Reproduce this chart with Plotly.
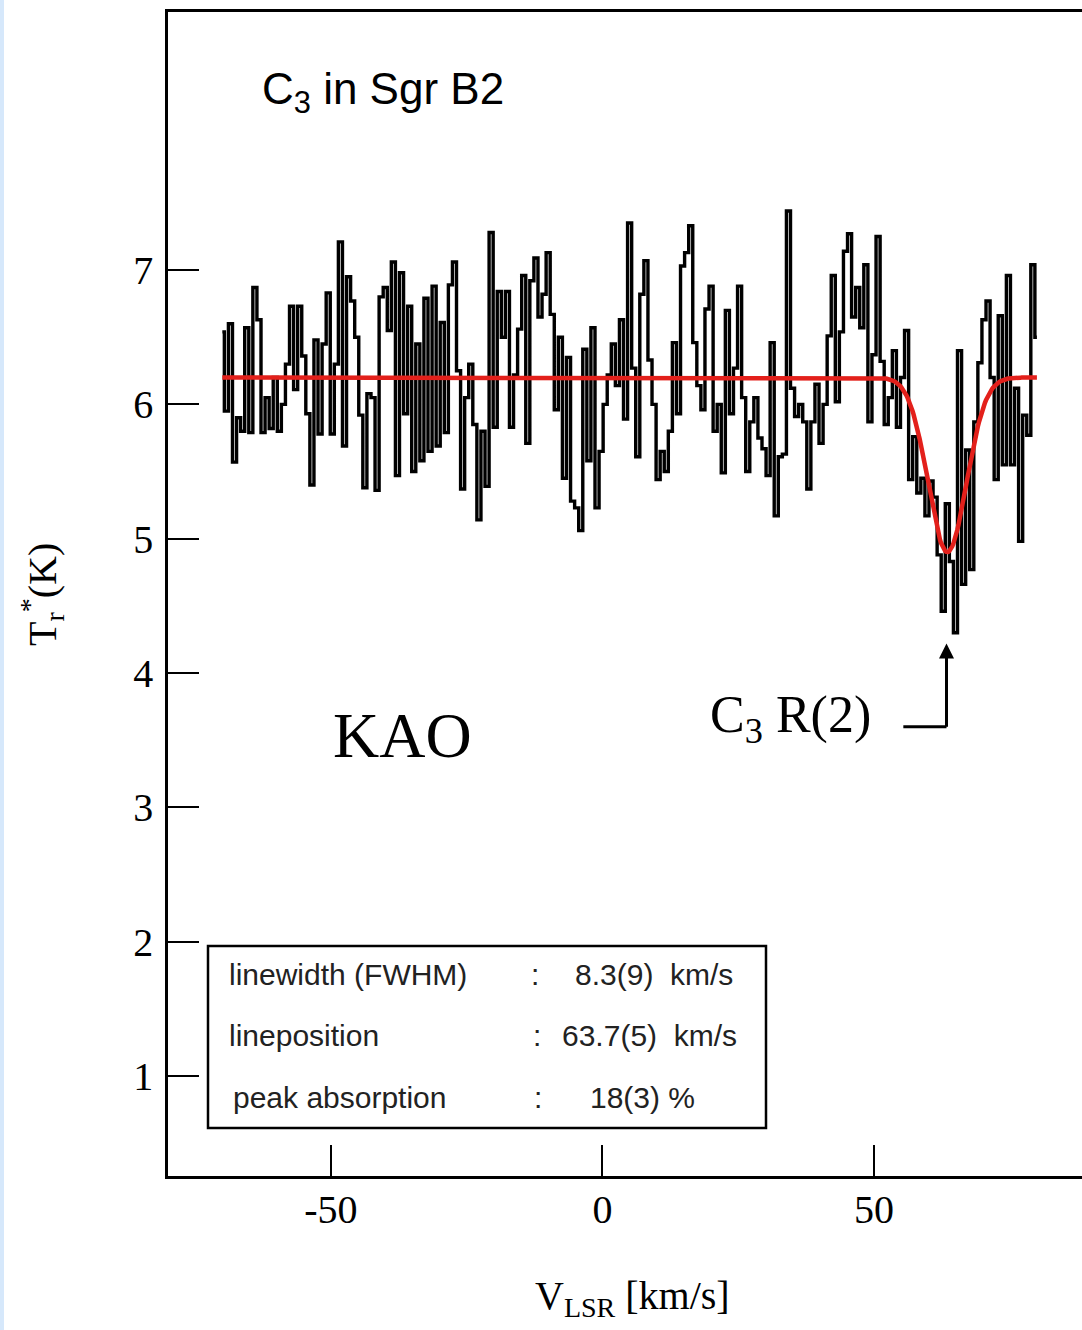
import numpy as np
import plotly.graph_objects as go

# ---------------- data ----------------
# spectrum channels: regular velocity grid (km/s)
v_start = -70.0
v_step = 0.75

# antenna temperature per channel (K)
t_seg1 = [6.54, 5.95, 6.60, 5.57, 5.90, 5.80, 6.57, 5.79, 6.87, 6.63,
          5.79, 6.05, 5.82, 6.20, 5.80, 6.00, 6.30, 6.73, 6.11, 6.73,
          6.36, 5.93, 5.40, 6.48, 5.78, 6.45, 6.83, 5.78, 6.30, 7.21,
          5.69, 6.95, 6.77, 6.50, 5.92, 5.38, 6.08, 6.05, 5.36, 6.80]
t_seg2 = [6.87, 6.55, 7.06, 5.47, 6.98, 5.93, 6.73, 5.50, 6.45, 5.58,
          6.79, 5.65, 6.88, 5.69, 6.61, 5.79, 6.89, 7.06, 6.25, 5.37,
          6.05, 6.30, 5.85, 5.14, 5.80, 5.39, 7.28, 5.83, 6.84, 6.50,
          6.84, 5.83, 6.22, 6.56, 6.96, 5.71, 6.92, 7.09, 6.65]
t_seg3 = [6.82, 7.13, 6.67, 5.96, 6.50, 5.45, 6.35, 5.28, 5.23, 5.06,
          6.41, 5.58, 6.57, 5.23, 5.65, 6.00, 6.22, 6.45, 6.14, 6.63,
          5.89, 7.35, 6.27, 5.61, 6.82, 7.07, 6.33, 6.00, 5.44, 5.65,
          5.50, 5.80, 6.46, 5.93, 7.03, 7.13, 7.33, 6.46, 6.14, 5.96,
          6.71]
t_seg4 = [6.88, 5.80, 6.00, 5.49, 6.70, 5.93, 6.27, 6.88, 6.05, 5.50,
          5.87, 6.05, 5.75, 5.67, 5.47, 6.46, 5.17, 5.61, 5.63, 7.44,
          6.12, 5.91, 6.00, 5.87, 5.37, 5.87, 6.15, 5.71, 6.00, 6.51,
          6.96, 6.02, 6.54, 7.14, 7.27, 6.65, 6.87, 6.57, 7.04]
t_seg5 = [5.87, 6.37, 7.25, 6.32, 5.85, 6.05, 6.40, 5.83, 6.20, 6.55,
          5.44, 5.76, 5.34, 5.45, 5.17, 5.43, 5.31, 4.88, 4.46, 5.26,
          4.83, 4.30, 6.40, 4.66, 5.66, 4.77, 5.87, 6.31, 6.63, 6.77,
          6.20, 5.44, 6.66, 5.55, 6.96, 5.55, 6.12, 4.98, 5.92, 5.77,
          7.04, 6.50]

# Gaussian fit parameters shown on the chart
fit_baseline = 6.2      # K
fit_center = 63.5       # km/s
fit_fwhm = 8.3          # km/s
fit_min = 4.9           # K at line centre

x_ticks = [-50, 0, 50]
y_ticks = [1, 2, 3, 4, 5, 6, 7]

info_labels = ["linewidth (FWHM)", "lineposition", "peak absorption"]
info_values = ["8.3(9)  km/s", "63.7(5)  km/s", "18(3) %"]

# ---------------- build ----------------
temps = np.array(t_seg1 + t_seg2 + t_seg3 + t_seg4 + t_seg5)
vel = v_start + v_step * np.arange(len(temps))

vfit = np.linspace(vel[0], vel[-1], 800)
sig = fit_fwhm / (2 * np.sqrt(2 * np.log(2)))
tfit = fit_baseline - (fit_baseline - fit_min) * np.exp(-0.5 * ((vfit - fit_center) / sig) ** 2)

W, H = 1082, 1330
L, R, T, B = 168, 1082, 12, 1176
XR = [-80.0, 88.3]
YR = [0.256, 8.921]


def px(x):
    return (x - L) / (R - L)


def py(y):
    return (B - y) / (B - T)


fig = go.Figure()
fig.add_trace(go.Scatter(x=vel, y=temps, mode="lines", line=dict(color="black", width=3.4, shape="hvh"),
                         hoverinfo="skip", showlegend=False))
fig.add_trace(go.Scatter(x=vfit, y=tfit, mode="lines", line=dict(color="#e3201b", width=4.5),
                         hoverinfo="skip", showlegend=False))

serif = "Liberation Serif"
sans = "Liberation Sans"

fig.update_layout(
    width=W, height=H,
    margin=dict(l=L, r=W - R, t=T, b=H - B),
    paper_bgcolor="white", plot_bgcolor="white",
    showlegend=False,
    xaxis=dict(range=XR, tickvals=x_ticks, ticktext=[str(t) for t in x_ticks], ticks="inside", ticklen=31,
               tickwidth=2, tickcolor="black", showline=True, linecolor="black", linewidth=2.5, mirror=True,
               showgrid=False, zeroline=False, tickfont=dict(family=serif, size=40, color="black"),
               ticklabelstandoff=-4),
    yaxis=dict(range=YR, tickvals=y_ticks, ticktext=[str(t) for t in y_ticks], ticks="inside", ticklen=31,
               tickwidth=2, tickcolor="black", showline=True, linecolor="black", linewidth=2.5, mirror=False,
               showgrid=False, zeroline=False, tickfont=dict(family=serif, size=40, color="black"),
               ticklabelstandoff=4),
)

anns = []
# axis titles
anns.append(dict(x=px(632), y=py(1298), xref="paper", yref="paper", text="V<sub>LSR</sub> [km/s]",
                 showarrow=False, font=dict(family=serif, size=40, color="black"), xanchor="center", yanchor="middle"))
anns.append(dict(x=px(42), y=py(595), xref="paper", yref="paper", text="T<sub>r</sub><sup>*</sup>(K)",
                 showarrow=False, textangle=-90, font=dict(family=serif, size=40, color="black"),
                 xanchor="center", yanchor="middle"))
# title inside
anns.append(dict(x=px(260), y=py(92), xref="paper", yref="paper", text="C<sub>3</sub> in Sgr B2",
                 showarrow=False, font=dict(family=sans, size=44, color="black"), xanchor="left", yanchor="middle"))
anns.append(dict(x=px(402), y=py(735), xref="paper", yref="paper", text="KAO",
                 showarrow=False, font=dict(family=serif, size=64, color="black"), xanchor="center", yanchor="middle"))
anns.append(dict(x=px(708), y=py(718), xref="paper", yref="paper", text="C<sub>3</sub> R(2)",
                 showarrow=False, font=dict(family=serif, size=52, color="black"), xanchor="left", yanchor="middle"))
# arrow
anns.append(dict(x=63.35, y=4.22, xref="x", yref="y", ax=63.35, ay=3.62, axref="x", ayref="y", text="",
                 showarrow=True, arrowhead=2, arrowsize=1.0, arrowwidth=3, arrowcolor="black"))
# info box texts
rows_y = [975, 1035, 1097]
label_x = [227, 227, 231]
colon_x = [535, 537, 538]
val_x = [573, 560, 588]
for i in range(3):
    anns.append(dict(x=px(label_x[i]), y=py(rows_y[i]), xref="paper", yref="paper", text=info_labels[i],
                     showarrow=False, font=dict(family=sans, size=30, color="#222"), xanchor="left", yanchor="middle"))
    anns.append(dict(x=px(colon_x[i]), y=py(rows_y[i]), xref="paper", yref="paper", text=":",
                     showarrow=False, font=dict(family=sans, size=30, color="#222"), xanchor="center", yanchor="middle"))
    anns.append(dict(x=px(val_x[i]), y=py(rows_y[i]), xref="paper", yref="paper", text=info_values[i],
                     showarrow=False, font=dict(family=sans, size=30, color="#222"), xanchor="left", yanchor="middle"))
fig.update_layout(annotations=anns)

shapes = []
shapes.append(dict(type="rect", xref="paper", yref="paper", x0=px(208), x1=px(766), y0=py(1128), y1=py(946),
                   line=dict(color="black", width=2.5), fillcolor="rgba(0,0,0,0)"))
shapes.append(dict(type="line", xref="x", yref="y", x0=55.4, x1=63.35, y0=3.60, y1=3.60,
                   line=dict(color="black", width=3)))
shapes.append(dict(type="line", xref="x", yref="y", x0=63.35, x1=63.35, y0=3.60, y1=4.05,
                   line=dict(color="black", width=3)))
shapes.append(dict(type="rect", xref="paper", yref="paper", x0=px(0), x1=px(4), y0=py(H), y1=py(0),
                   line=dict(width=0), fillcolor="#d6e8fb", layer="below"))
fig.update_layout(shapes=shapes)

fig.write_html("out.html", config={"displayModeBar": False},
               post_script="document.body.style.margin='0';document.body.style.padding='0';")
